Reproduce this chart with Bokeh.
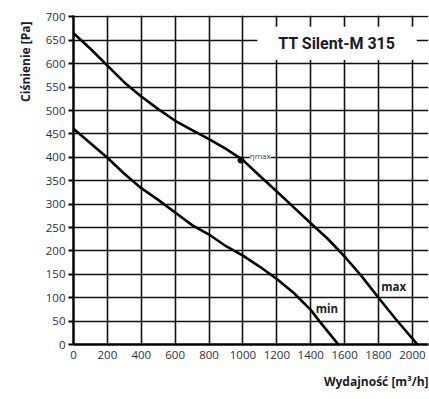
import math
from bokeh.plotting import figure
from bokeh.models import Range1d, FixedTicker, Label, BoxAnnotation, Title
from bokeh.embed import file_html
from bokeh.resources import INLINE

# ---- data ----
max_q = [0, 100, 200, 300, 400, 500, 600, 700, 800, 900, 1000, 1100, 1200, 1300, 1400, 1500, 1600, 1700, 1800, 1900, 2030]
max_p = [665, 632, 596, 560, 530, 503, 478, 458, 439, 418, 394, 360, 327, 293, 259, 226, 188, 146, 100, 55, 0]

min_q = [0, 100, 200, 300, 400, 500, 600, 700, 800, 900, 1000, 1100, 1200, 1300, 1400, 1451, 1500, 1563]
min_p = [461, 430, 399, 365, 334, 309, 282, 255, 235, 210, 190, 166, 140, 110, 74, 50, 28, 0]

eta_q = [988]
eta_p = [394]

x_ticks = [0, 200, 400, 600, 800, 1000, 1200, 1400, 1600, 1800, 2000]
y_ticks = [0, 50, 100, 150, 200, 250, 300, 350, 400, 450, 500, 550, 600, 650, 700]

title_text = "TT Silent-M 315"
x_label = "Wydajność [m³/h]"
y_label = "Ciśnienie [Pa]"

FONT = "Open Sans"
TICK_COLOR = "#2e2e3e"

p = figure(width=429, height=399, output_backend="svg", toolbar_location=None,
           x_range=Range1d(0, 2095), y_range=Range1d(0, 703),
           min_border_left=73, min_border_right=1, min_border_top=15, min_border_bottom=55)
p.outline_line_color = None
p.background_fill_color = "white"
p.border_fill_color = "white"

# grid
p.xgrid.ticker = FixedTicker(ticks=x_ticks)
p.ygrid.ticker = FixedTicker(ticks=y_ticks)
for g in (p.xgrid, p.ygrid):
    g.grid_line_color = "#111111"
    g.grid_line_width = 1.6
    g.grid_line_alpha = 1.0

# axes
p.xaxis.ticker = FixedTicker(ticks=x_ticks)
p.yaxis.ticker = FixedTicker(ticks=y_ticks)
for ax in (p.xaxis, p.yaxis):
    ax.axis_line_color = "black"
    ax.axis_line_width = 2.5
    ax.major_tick_line_color = "black"
    ax.major_tick_line_width = 2
    ax.minor_tick_line_color = None
    ax.major_tick_in = 0
    ax.major_label_text_font = FONT
    ax.major_label_text_font_size = "11.5px"
    ax.major_label_text_color = TICK_COLOR
p.yaxis.major_tick_out = 5
p.yaxis.major_label_standoff = 3
p.xaxis.major_tick_out = 0
p.xaxis.major_label_standoff = 6

# curves
p.line(max_q, max_p, line_color="black", line_width=2.6, line_join="round")
p.line(min_q, min_p, line_color="black", line_width=2.6, line_join="round")
p.scatter(eta_q, eta_p, size=6, color="black")

# title box
p.add_layout(BoxAnnotation(left=1085, right=2026, bottom=608, top=679,
                           fill_color="white", fill_alpha=1.0, line_color=None))
p.add_layout(Label(x=1554, y=643, text=title_text, text_font="Roboto", text_font_style="bold",
                   text_font_size="16px", text_color="#1a1a2a",
                   text_align="center", text_baseline="middle"))

# curve labels
p.add_layout(Label(x=1040, y=404, text="ηmax", text_font=FONT, text_font_size="8px",
                   text_color="#3a3a5a", text_align="left", text_baseline="middle",
                   background_fill_color="white", background_fill_alpha=1.0))
p.add_layout(Label(x=1495, y=76, text="min", text_font=FONT, text_font_style="bold",
                   text_font_size="11.5px", text_color="#222222",
                   text_align="center", text_baseline="middle"))
p.add_layout(Label(x=1889, y=125, text="max", text_font=FONT, text_font_style="bold",
                   text_font_size="11.5px", text_color="#222222",
                   text_align="center", text_baseline="middle"))

# axis titles as side-panel titles
p.add_layout(Title(text=y_label, align="right", text_font=FONT, text_font_style="bold",
                   text_font_size="12px", text_color="#1a1a2a", standoff=17, offset=6), "left")
p.add_layout(Title(text=x_label, align="right", text_font=FONT, text_font_style="bold",
                   text_font_size="12px", text_color="#1a1a2a", standoff=18), "below")

open("out.html", "w").write(file_html(p, INLINE))
